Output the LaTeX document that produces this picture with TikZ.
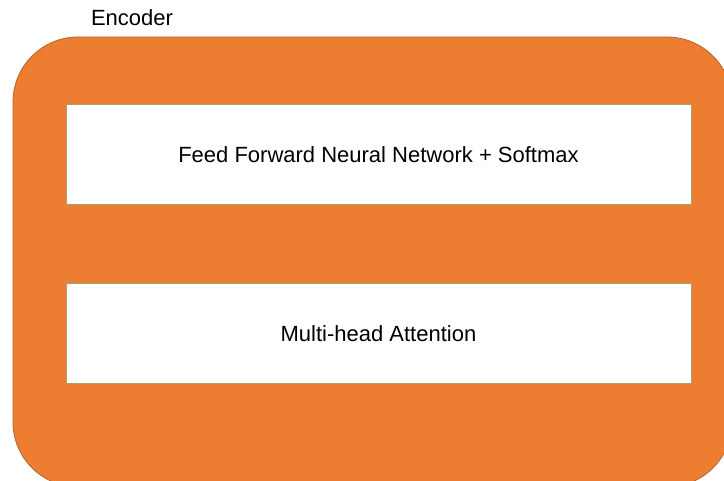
\documentclass[tikz,border=0pt]{standalone}
\usepackage{fontspec}
\setmainfont{Liberation Sans}
\usetikzlibrary{positioning}
\definecolor{encorange}{HTML}{ED7D31}
\definecolor{encedge}{HTML}{B0672E}
\definecolor{layeredge}{HTML}{A5A070}
\tikzset{
  encoder/.style = {draw=encedge, fill=encorange, rounded corners=65pt, line width=0.8pt},
  layer/.style   = {draw=layeredge, fill=white, line width=1pt, minimum width=625pt,
                    minimum height=100pt, font=\fontsize{22}{26}\selectfont},
  title/.style   = {font=\fontsize{22}{26}\selectfont}
}

\begin{document}
\begin{tikzpicture}[x=1pt,y=-1pt]
    \clip (0,0) rectangle (724,481);
    \fill[white] (0,0) rectangle (724,481);

    % outer block, runs off the page on the right and bottom
    \draw[encoder] (13,37) rectangle (732,487);
    \node[title] (enc label) at (132,18) {Encoder};

    \node[layer] (attention) at (378.5,333.5) {Multi-head Attention};
    \node[layer, above=78pt of attention] (ffnn) {Feed Forward Neural Network + Softmax};
\end{tikzpicture}
\end{document}
